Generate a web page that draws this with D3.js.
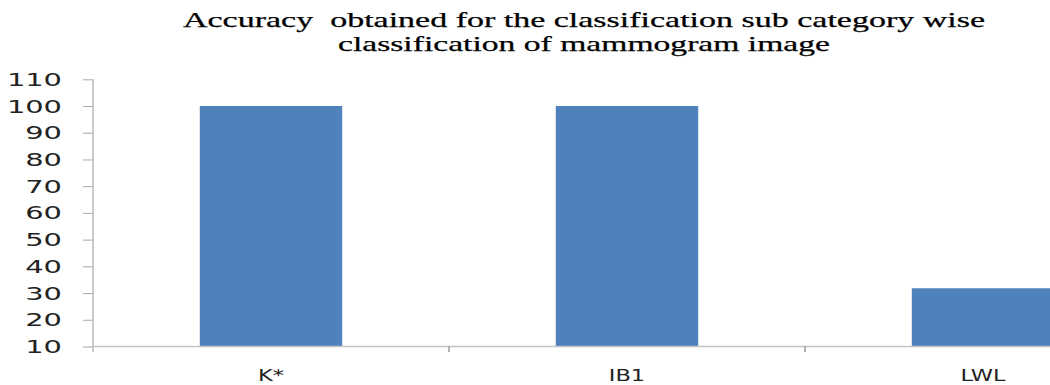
<!DOCTYPE html>
<html>
<head>
<meta charset="utf-8">
<script src="https://cdn.jsdelivr.net/npm/d3@7"></script>
<style>
  html, body { margin: 0; padding: 0; background: #ffffff; }
  svg { display: block; overflow: hidden; }
  .lbl { font-family: "DejaVu Sans", Verdana, sans-serif; }
</style>
</head>
<body>
<svg id="chart" width="1050" height="385"></svg>
<script>
// Classifier accuracy per sub category
const categories = ["K*", "IB1", "LWL"];
const accuracy = [100, 100, 31.8];
const yTicks = [10, 20, 30, 40, 50, 60, 70, 80, 90, 100, 110];
const titleLines = [
  "Accuracy  obtained for the classification sub category wise",
  "classification of mammogram image"
];

const svg = d3.select("#chart");
const W = 1050, H = 385;

const plotLeft = 93, plotTop = 79.3, plotBottom = 346.5;
const step = 356;

const x = d3.scaleBand()
  .domain(categories)
  .range([plotLeft, plotLeft + step * categories.length])
  .paddingInner(0.6)
  .paddingOuter(0.3);

const y = d3.scaleLinear()
  .domain([10, 110])
  .range([plotBottom, plotTop]);

const axisGrey = "#a9a9a9";
const baseGrey = "#c4c4c4";

// Bars
svg.append("g")
  .selectAll("rect")
  .data(categories)
  .join("rect")
  .attr("x", d => x(d))
  .attr("width", x.bandwidth())
  .attr("y", (d, i) => y(accuracy[i]))
  .attr("height", (d, i) => y(10) - y(accuracy[i]))
  .attr("fill", "#4f81bd");

// Y axis
const yAxis = svg.append("g")
  .attr("transform", `translate(${plotLeft},0)`)
  .call(d3.axisLeft(y).tickValues(yTicks).tickSize(10).tickSizeOuter(0).tickFormat(d3.format("d")));
yAxis.attr("font-family", null);
yAxis.select(".domain").remove();
yAxis.selectAll(".tick line").attr("stroke", axisGrey).attr("stroke-width", 1);
yAxis.selectAll(".tick text")
  .attr("x", null).attr("dy", null)
  .attr("class", "lbl")
  .attr("font-size", 17)
  .attr("fill", "#222222")
  .attr("text-anchor", "end")
  .attr("transform", "translate(-31,6) scale(1.7,1)");

// Vertical axis line, extending slightly below the baseline
svg.append("line")
  .attr("x1", plotLeft).attr("x2", plotLeft)
  .attr("y1", y(110)).attr("y2", y(10) + 5.5)
  .attr("stroke", axisGrey).attr("stroke-width", 1.2);

// Baseline
svg.append("line")
  .attr("x1", plotLeft).attr("x2", W)
  .attr("y1", y(10)).attr("y2", y(10))
  .attr("stroke", baseGrey).attr("stroke-width", 1.5);

// Category boundary tick marks
const boundaries = d3.range(1, categories.length).map(i => plotLeft + i * x.step());
svg.append("g")
  .selectAll("line")
  .data(boundaries)
  .join("line")
  .attr("x1", d => d).attr("x2", d => d)
  .attr("y1", y(10)).attr("y2", y(10) + 5.5)
  .attr("stroke", "#999999").attr("stroke-width", 1.5);

// Category labels
svg.append("g")
  .selectAll("text")
  .data(categories)
  .join("text")
  .attr("class", "lbl")
  .attr("transform", d => `translate(${x(d) + x.bandwidth() / 2},381) scale(1.5,1)`)
  .attr("text-anchor", "middle")
  .attr("font-size", 15)
  .attr("fill", "#222222")
  .text(d => d);

// Title, horizontally stretched serif text
const titleLayout = [
  { x: 183, y: 27, len: 802 },
  { x: 338, y: 51, len: 492 }
];
svg.append("g")
  .selectAll("text")
  .data(titleLines)
  .join("text")
  .attr("x", (d, i) => titleLayout[i].x)
  .attr("y", (d, i) => titleLayout[i].y)
  .attr("textLength", (d, i) => titleLayout[i].len)
  .attr("lengthAdjust", "spacingAndGlyphs")
  .style("font-family", "'Liberation Serif', 'DejaVu Serif', serif")
  .style("font-size", "21px")
  .style("white-space", "pre")
  .attr("fill", "#000000")
  .attr("stroke", "#000000")
  .attr("stroke-width", 0.25)
  .text(d => d);
</script>
</body>
</html>
